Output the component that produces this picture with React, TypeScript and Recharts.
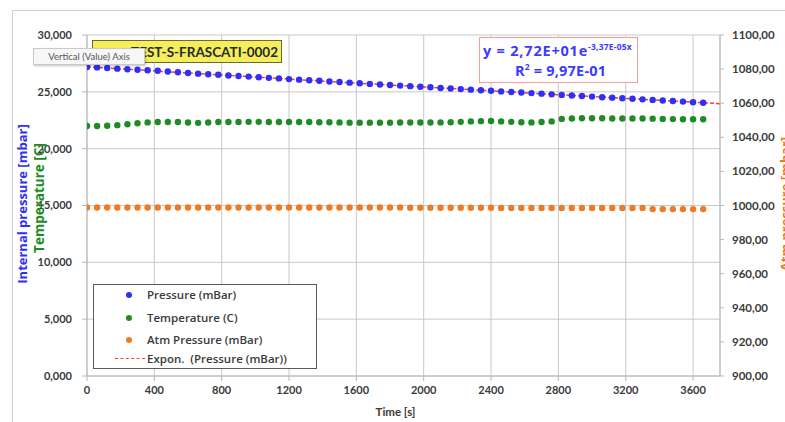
import React from 'react';
import { ComposedChart, Scatter, Line, XAxis, YAxis, CartesianGrid, Label } from 'recharts';

const times = [0, 60, 120, 180, 240, 300, 360, 420, 480, 540, 600, 660, 720, 780, 840, 900, 960, 1020, 1080, 1140, 1200, 1260, 1320, 1380, 1440, 1500, 1560, 1620, 1680, 1740, 1800, 1860, 1920, 1980, 2040, 2100, 2160, 2220, 2280, 2340, 2400, 2460, 2520, 2580, 2640, 2700, 2760, 2820, 2880, 2940, 3000, 3060, 3120, 3180, 3240, 3300, 3360, 3420, 3480, 3540, 3600, 3660];

const pressure = [27.19, 27.15, 27.10, 27.04, 26.99, 26.94, 26.90, 26.85, 26.79, 26.72, 26.66, 26.60, 26.55, 26.50, 26.44, 26.39, 26.34, 26.28, 26.23, 26.18, 26.12, 26.07, 26.02, 25.97, 25.91, 25.86, 25.81, 25.76, 25.70, 25.65, 25.60, 25.55, 25.50, 25.45, 25.40, 25.34, 25.29, 25.24, 25.19, 25.14, 25.09, 25.04, 24.99, 24.94, 24.89, 24.84, 24.78, 24.73, 24.68, 24.63, 24.58, 24.53, 24.49, 24.44, 24.39, 24.34, 24.29, 24.24, 24.19, 24.14, 24.09, 24.04];

const temperature = [21.99, 21.99, 22.02, 22.07, 22.15, 22.23, 22.31, 22.35, 22.35, 22.34, 22.30, 22.27, 22.30, 22.34, 22.35, 22.35, 22.36, 22.36, 22.35, 22.35, 22.34, 22.34, 22.34, 22.33, 22.33, 22.31, 22.29, 22.29, 22.29, 22.29, 22.29, 22.30, 22.30, 22.30, 22.30, 22.31, 22.33, 22.36, 22.40, 22.42, 22.43, 22.40, 22.36, 22.33, 22.31, 22.34, 22.40, 22.62, 22.66, 22.67, 22.67, 22.67, 22.66, 22.66, 22.66, 22.65, 22.64, 22.62, 22.60, 22.59, 22.59, 22.59];

const atmPressure = [998.8, 998.8, 998.8, 998.8, 998.8, 998.8, 998.8, 998.8, 998.8, 998.8, 998.8, 998.8, 998.8, 998.8, 998.8, 998.8, 998.8, 998.8, 998.8, 998.8, 998.8, 998.8, 998.8, 998.8, 998.8, 998.8, 998.8, 998.8, 998.8, 998.8, 998.8, 998.8, 998.7, 998.7, 998.7, 998.7, 998.7, 998.7, 998.7, 998.7, 998.7, 998.6, 998.6, 998.6, 998.6, 998.6, 998.6, 998.6, 998.6, 998.6, 998.6, 998.6, 998.6, 998.6, 998.6, 998.6, 997.9, 997.9, 997.9, 997.9, 997.9, 997.9];

const trendTimes = [0, 400, 800, 1200, 1600, 2000, 2400, 2800, 3200, 3600, 3760];
const trendValues = [27.20, 26.84, 26.48, 26.12, 25.77, 25.43, 25.09, 24.75, 24.42, 24.09, 23.96];

const xTicks = [0, 400, 800, 1200, 1600, 2000, 2400, 2800, 3200, 3600];
const leftTicks = [0, 5, 10, 15, 20, 25, 30];
const rightTicks = [900, 920, 940, 960, 980, 1000, 1020, 1040, 1060, 1080, 1100];

const pressureRows = times.map((t, i) => ({ t, v: pressure[i] }));
const temperatureRows = times.map((t, i) => ({ t, v: temperature[i] }));
const atmRows = times.map((t, i) => ({ t, v: atmPressure[i] }));
const trendRows = trendTimes.map((t, i) => ({ t, v: trendValues[i] }));

const BLUE = '#2f2ff5';
const GREEN = '#1e8c24';
const ORANGE = '#f07a22';
const RED = '#ff3a3a';
const FONT = 'Lato, "Open Sans", sans-serif';
const WIDE = '"Open Sans", Lato, sans-serif';

const dot = (color: string) => (props: any) => (
  <circle cx={props.cx} cy={props.cy} r={3.2} fill={color} stroke="none" />
);

const tickStyle = { fontSize: 11, fill: '#3a3a3a', fontWeight: 700, fontFamily: FONT };
const rightTickStyle = { fontSize: 11.5, fill: '#3a3a3a', fontWeight: 700, fontFamily: FONT };

const rotText = (text: string, cx: number, cy: number, color: string, size: number) => (
  <div
    style={{
      position: 'absolute',
      left: cx,
      top: cy,
      transform: 'translate(-50%, -50%) rotate(-90deg)',
      whiteSpace: 'nowrap',
      color,
      fontSize: size,
      fontWeight: 700,
      fontFamily: WIDE,
      lineHeight: 1,
    }}
  >
    {text}
  </div>
);

const legendItems = [
  { label: 'Pressure (mBar)', color: BLUE, kind: 'dot', top: 295 },
  { label: 'Temperature (C)', color: GREEN, kind: 'dot', top: 318 },
  { label: 'Atm Pressure (mBar)', color: ORANGE, kind: 'dot', top: 340 },
  { label: 'Expon.  (Pressure (mBar))', color: RED, kind: 'line', top: 359 },
];

export default function App() {
  return (
    <div style={{ position: 'absolute', left: 0, top: 0, width: 785, height: 422, overflow: 'hidden', background: '#fff', fontFamily: FONT }}>
      <div style={{ position: 'absolute', left: 12, top: 10, width: 800, height: 430, borderLeft: '1px solid #cfcfcf', borderTop: '1px solid #cfcfcf' }} />
      <ComposedChart width={785} height={422} data={trendRows} margin={{ top: 35, right: 0, bottom: 0, left: 0 }}>
        <CartesianGrid yAxisId="left" stroke="#c8c8c8" />
        <XAxis
          dataKey="t"
          type="number"
          domain={[0, 3760]}
          ticks={xTicks}
          allowDataOverflow
          height={46}
          tickSize={5}
          tickMargin={5}
          stroke="#b8b8b8"
          tick={tickStyle}
        >
          <Label value="Time [s]" position="insideBottom" offset={6} dx={-8} style={{ fontSize: 11.5, fontWeight: 700, fill: '#3a3a3a', fontFamily: FONT }} />
        </XAxis>
        <YAxis
          yAxisId="left"
          type="number"
          domain={[0, 30]}
          ticks={leftTicks}
          width={87}
          tickSize={5}
          tickMargin={10}
          stroke="#b8b8b8"
          tick={tickStyle}
          tickFormatter={(v: number) => v.toFixed(3).replace('.', ',')}
        />
        <YAxis
          yAxisId="right"
          orientation="right"
          type="number"
          domain={[900, 1100]}
          ticks={rightTicks}
          width={65}
          tickSize={4}
          tickMargin={8}
          stroke="#b8b8b8"
          tick={rightTickStyle}
          tickFormatter={(v: number) => v.toFixed(2).replace('.', ',')}
        />
        <Scatter yAxisId="left" data={temperatureRows} dataKey="v" fill={GREEN} shape={dot(GREEN)} isAnimationActive={false} />
        <Scatter yAxisId="right" data={atmRows} dataKey="v" fill={ORANGE} shape={dot(ORANGE)} isAnimationActive={false} />
        <Scatter yAxisId="left" data={pressureRows} dataKey="v" fill={BLUE} shape={dot(BLUE)} isAnimationActive={false} />
        <Line yAxisId="left" dataKey="v" type="linear" stroke={RED} strokeWidth={1.5} strokeDasharray="4 2" dot={false} activeDot={false} isAnimationActive={false} />
      </ComposedChart>

      {rotText('Internal pressure [mbar]', 22, 204, BLUE, 13)}
      {rotText('Temperature [C]', 40, 198, GREEN, 13.5)}
      {rotText('Atm pressure [mbar]', 785, 204, ORANGE, 13)}

      <div style={{ position: 'absolute', left: 92, top: 40, width: 190, height: 23, background: '#f4ee5c', border: '1px solid #6d6a2a', display: 'flex', alignItems: 'center', justifyContent: 'flex-end', paddingRight: 3, boxSizing: 'border-box', fontSize: 13.5, fontWeight: 700, fontFamily: FONT, color: '#2a2a2a', whiteSpace: 'nowrap' }}>
        TEST-S-FRASCATI-0002
      </div>
      <div style={{ position: 'absolute', left: 33, top: 48, width: 112, height: 17, background: '#f7f7f7', border: '1px solid #c9c9c9', boxShadow: '1px 1px 2px rgba(0,0,0,0.25)', boxSizing: 'border-box', fontSize: 9.5, color: '#555', display: 'flex', alignItems: 'center', justifyContent: 'center', whiteSpace: 'nowrap' }}>
        Vertical (Value) Axis
      </div>

      <div style={{ position: 'absolute', left: 479, top: 37, width: 159, height: 46, background: '#fff', border: '1.5px solid #ff9a9a', boxSizing: 'border-box', color: '#3b3bff', fontWeight: 700, fontFamily: WIDE, whiteSpace: 'nowrap' }}>
        <div style={{ position: 'absolute', left: 3, top: 4, fontSize: 14.5, lineHeight: '17px', letterSpacing: 0.8 }}>
          y = 2,72E+01e<span style={{ fontSize: 8.5, position: 'relative', top: -6, letterSpacing: 0.2 }}>-3,37E-05x</span>
        </div>
        <div style={{ position: 'absolute', left: 35, top: 24, fontSize: 14.5, lineHeight: '17px', letterSpacing: 0.2 }}>
          R<span style={{ fontSize: 8.5, position: 'relative', top: -6 }}>2</span> = 9,97E-01
        </div>
      </div>

      <div style={{ position: 'absolute', left: 93, top: 284, width: 224, height: 85, background: '#fff', border: '1px solid #5a5a5a', boxSizing: 'border-box' }} />
      {legendItems.map((it) => (
        <div key={it.label} style={{ position: 'absolute', left: 0, top: it.top - 7, height: 14, width: 320 }}>
          {it.kind === 'dot' ? (
            <div style={{ position: 'absolute', left: 126, top: 4, width: 6, height: 6, borderRadius: 3, background: it.color }} />
          ) : (
            <div style={{ position: 'absolute', left: 115, top: 6, width: 30, height: 0, borderTop: `1.5px dashed ${it.color}` }} />
          )}
          <div style={{ position: 'absolute', left: 147, top: 0, fontSize: 11.5, lineHeight: '14px', fontWeight: 600, fontFamily: WIDE, color: '#3a3a3a', whiteSpace: 'pre' }}>
            {it.label}
          </div>
        </div>
      ))}
    </div>
  );
}
